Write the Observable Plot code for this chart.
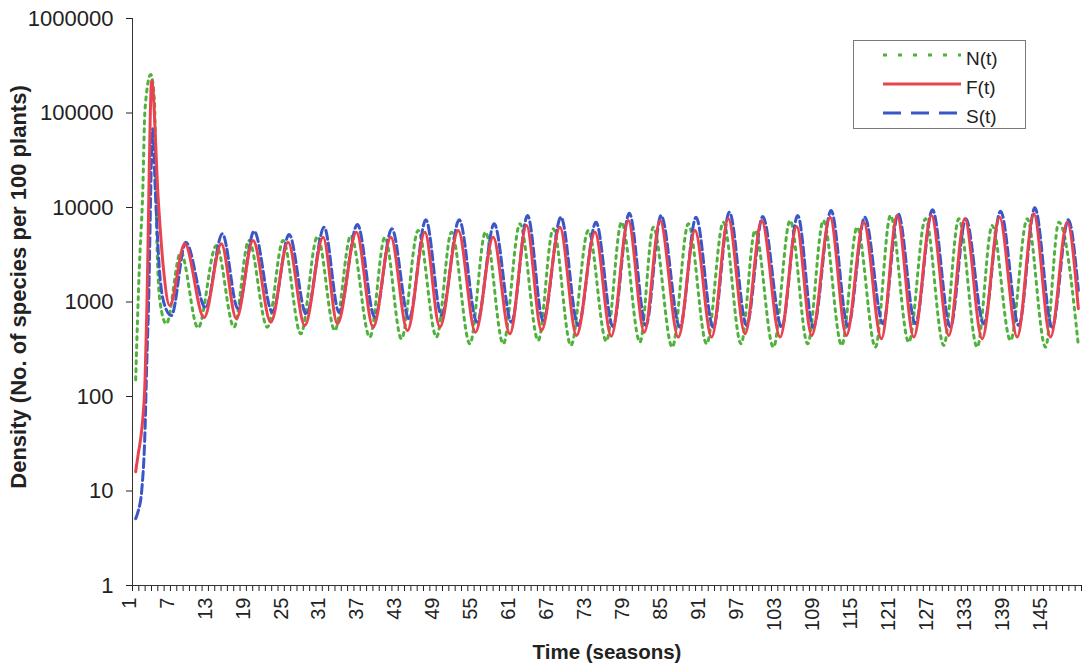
<!DOCTYPE html>
<html>
<head>
<meta charset="utf-8">
<script src="https://cdn.jsdelivr.net/npm/d3@7"></script>
<script src="https://cdn.jsdelivr.net/npm/@observablehq/plot@0.6"></script>
<style>
  html, body { margin: 0; padding: 0; background: #fff; }
  #wrap { position: relative; width: 1085px; height: 670px; font-family: "Liberation Sans", Arial, sans-serif; color: #222; }
  #legend { position: absolute; left: 853px; top: 40px; width: 171px; height: 87px; border: 1px solid #7a7a7a; background: #fff; }
</style>
</head>
<body>
<div id="wrap"></div>
<script>
// Population density of the three species over 150 seasons (log scale).
// Each series is stored as season / density pairs: the early outbreak,
// then the successive lows and highs of the seasonal cycle.

const yTicks = [1, 10, 100, 1000, 10000, 100000, 1000000];
const seasonLabels = [1, 7, 13, 19, 25, 31, 37, 43, 49, 55, 61, 67, 73, 79, 85, 91, 97, 103, 109, 115, 121, 127, 133, 139, 145];

// N(t)
const nTime = [1, 1.58, 2.11, 2.48, 3.38, 3.96, 4.33, 4.85,
  5.85, 8.12, 10.86, 13.75, 16.55, 18.88, 21.82, 24.30, 27.10, 29.73, 32.48, 35.01,
  38.01, 40.39, 43.01, 45.65, 48.55, 50.92, 53.83, 56.30, 59.10, 61.74, 64.63, 67.00,
  69.80, 72.54, 75.39, 77.80, 80.71, 82.82, 85.82, 88.35, 91.25, 93.89, 96.69, 98.90,
  101.80, 104.44, 107.22, 109.70, 112.60, 115.03, 117.93, 120.30, 123.19, 125.84,
  128.73, 131.10, 134.01, 136.38, 139.28, 141.92, 144.81, 146.92, 150];
const nValue = [150, 2300, 14000, 110000, 255000, 137000, 5300, 1000,
  588, 3365, 533, 3960, 541, 4475, 541, 4475, 460, 4930, 499, 5060,
  425, 4850, 408, 5710, 425, 5480, 361, 5480, 361, 6720, 392, 5950,
  347, 5710, 385, 6990, 376, 6190, 333, 6720, 361, 6990, 361, 5710,
  333, 7280, 361, 7280, 347, 6190, 333, 8220, 376, 7590,
  347, 7590, 333, 6460, 392, 7590, 333, 6990, 347];

// F(t)
const fTime = [1, 1.42, 1.95, 2.48, 2.75, 3.54, 4.58, 5.37,
  6.38, 8.76, 11.81, 14.54, 16.92, 19.56, 22.36, 25.09, 27.73, 30.63, 32.89, 35.89,
  38.54, 41.33, 43.96, 46.71, 49.08, 51.98, 54.71, 57.51, 60.15, 62.78, 65.15, 68.06,
  70.69, 73.60, 76.18, 78.86, 81.40, 83.88, 86.77, 89.41, 92.04, 94.68, 97.32, 99.95,
  102.86, 105.48, 107.85, 110.76, 113.34, 116.08, 118.88, 121.36, 123.99, 126.78,
  129.52, 132.05, 134.80, 137.54, 140.34, 142.96, 145.60, 148.25, 150];
const fValue = [16, 25, 44, 148, 760, 221000, 11800, 2340,
  918, 4130, 680, 4130, 664, 4475, 611, 4295, 564, 4850, 588, 5480,
  541, 4850, 499, 5480, 541, 5710, 479, 4850, 460, 6460, 499, 6190,
  443, 5480, 434, 7280, 479, 7280, 425, 5710, 425, 7590, 460, 7280,
  425, 6300, 443, 7890, 443, 6990, 408, 8220, 425, 8220,
  443, 7590, 408, 7890, 425, 8570, 425, 6990, 850];

// S(t)
const sTime = [1, 1.42, 1.95, 2.48, 2.75, 3.00, 3.69, 4.11, 4.80, 5.64,
  6.64, 8.92, 12.06, 14.70, 17.17, 19.72, 22.61, 25.25, 27.98, 30.79, 33.14, 36.05,
  38.79, 41.49, 44.21, 46.87, 49.33, 52.14, 54.96, 57.67, 60.40, 62.94, 65.40, 68.22,
  70.94, 73.76, 76.43, 79.02, 81.65, 84.04, 87.02, 89.57, 92.29, 94.84, 97.57, 100.11,
  103.11, 105.64, 108.10, 110.92, 113.59, 116.24, 119.13, 121.52, 124.24, 126.94,
  129.77, 132.21, 135.05, 137.70, 140.59, 143.12, 145.85, 148.41, 150];
const sValue = [5.1, 6.2, 10, 44, 224, 760, 68000, 15000, 2000, 900,
  720, 4295, 868, 5270, 847, 5610, 780, 5180, 738, 6190, 780, 6610,
  691, 5950, 664, 7410, 720, 7410, 611, 6720, 611, 8220, 637, 7890,
  564, 6990, 552, 8710, 564, 8220, 541, 7890, 541, 8920, 564, 8030,
  541, 8220, 541, 9290, 552, 7890, 588, 8570, 588, 9460,
  541, 7590, 588, 9140, 564, 9930, 541, 7410, 1325];

const colorN = "#4fb23c";
const colorF = "#ea4350";
const colorS = "#3b56c6";

const rows = (time, value) => time.map((t, i) => ({t, v: value[i]}));

const chart = Plot.plot({
  width: 1085,
  height: 670,
  marginLeft: 132,
  marginRight: 4,
  marginTop: 18,
  marginBottom: 85,
  style: {fontFamily: "'Liberation Sans', Arial, sans-serif", color: "#222", background: "#fff", overflow: "visible"},
  x: {domain: [0.5, 150.5]},
  y: {type: "log", domain: [1, 1000000]},
  marks: [
    Plot.axisY({ticks: yTicks, tickFormat: d3.format("d"), tickSize: 6, tickPadding: 13, fontSize: 22, label: null}),
    // one short tick at every season boundary
    Plot.axisX({ticks: d3.range(0.5, 151, 1), tickSize: 6, tickFormat: () => "", label: null}),
    // season numbers, written upwards below the axis
    Plot.text(seasonLabels, {x: d => d, text: d => String(d), frameAnchor: "bottom", rotate: -90, textAnchor: "end", dy: 12, fontSize: 20}),
    Plot.ruleY([1], {stroke: "#333"}),
    Plot.ruleX([0.5], {stroke: "#333"}),
    Plot.line(rows(nTime, nValue), {x: "t", y: "v", stroke: colorN, strokeWidth: 3, strokeDasharray: "3,5", curve: "monotone-x"}),
    Plot.line(rows(sTime, sValue), {x: "t", y: "v", stroke: colorS, strokeWidth: 3, strokeDasharray: "9,4", curve: "monotone-x"}),
    Plot.line(rows(fTime, fValue), {x: "t", y: "v", stroke: colorF, strokeWidth: 3, curve: "monotone-x"}),
    Plot.text(["Density (No. of species per 100 plants)"], {text: d => d, frameAnchor: "left", textAnchor: "middle", rotate: -90, dx: -114, dy: -15, fontSize: 22, fontWeight: "bold"}),
    Plot.text(["Time (seasons)"], {text: d => d, frameAnchor: "bottom", dy: 73, fontSize: 20.5, fontWeight: "bold"})
  ]
});

const wrap = document.getElementById("wrap");
wrap.appendChild(chart);

// Legend box in the upper right corner
const legendItems = [
  {label: "N(t)", color: colorN, dash: "4,11"},
  {label: "F(t)", color: colorF, dash: null},
  {label: "S(t)", color: colorS, dash: "18,10"}
];
const legend = d3.select(wrap).append("div").attr("id", "legend");
const lsvg = legend.append("svg").attr("width", 171).attr("height", 87);
legendItems.forEach((item, i) => {
  const y = 14 + i * 29;
  lsvg.append("line")
    .attr("x1", 29).attr("x2", 107).attr("y1", y).attr("y2", y)
    .attr("stroke", item.color).attr("stroke-width", 3)
    .attr("stroke-dasharray", item.dash);
  lsvg.append("text")
    .attr("x", 112).attr("y", y + 3)
    .attr("dominant-baseline", "central")
    .attr("font-size", 19)
    .attr("fill", "#222")
    .text(item.label);
});
</script>
</body>
</html>
